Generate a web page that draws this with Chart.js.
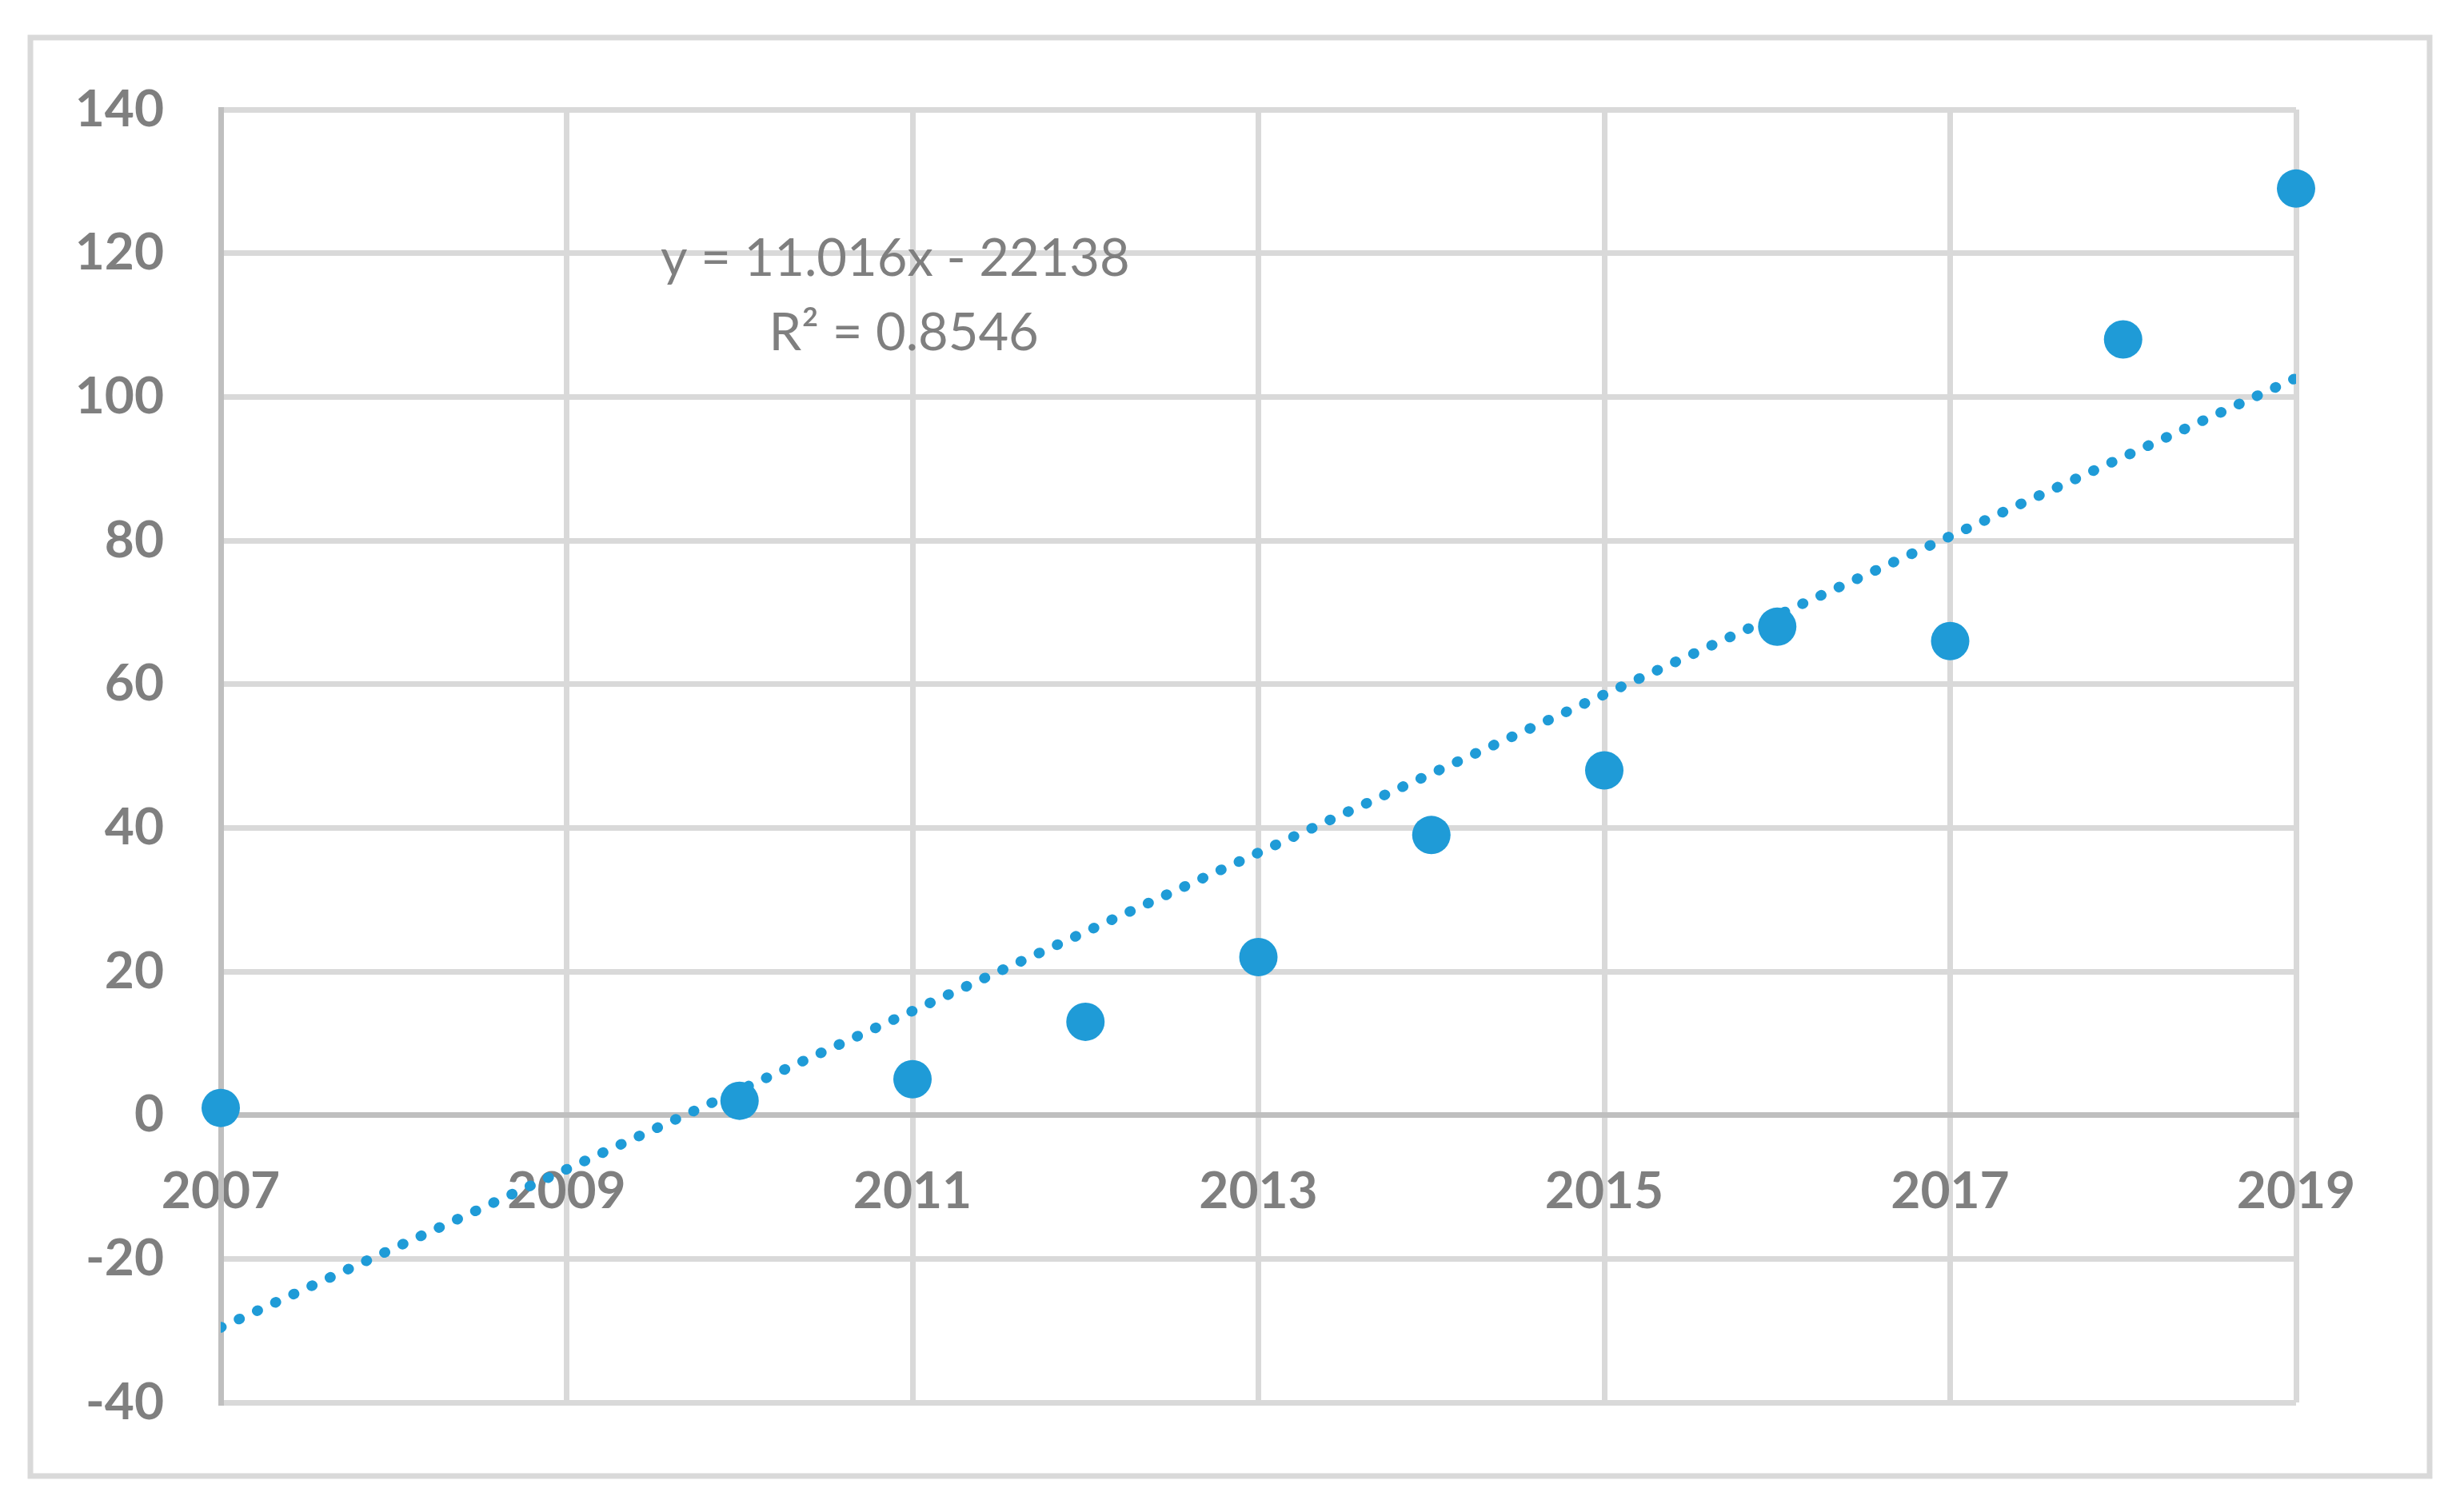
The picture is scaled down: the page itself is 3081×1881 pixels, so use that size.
<!DOCTYPE html>
<html>
<head>
<meta charset="utf-8">
<title>Trend</title>
<script src="https://cdn.jsdelivr.net/npm/chart.js@4.4.1/dist/chart.umd.min.js"></script>
<style>
    html, body { margin: 0; padding: 0; background: #ffffff; }
    canvas { display: block; }
</style>
</head>
<body>
<canvas id="trendChart" width="3081" height="1881"></canvas>
<script>
// Values
const years = [2007, 2010, 2011, 2012, 2013, 2014, 2015, 2016, 2017, 2018, 2019];
const counts = [1, 2, 5, 13, 22, 39, 48, 68, 66, 108, 129];
const xTicks = [2007, 2009, 2011, 2013, 2015, 2017, 2019];
const yTicks = [-40, -20, 0, 20, 40, 60, 80, 100, 120, 140];
const equationLines = ['y = 11.016x - 22138', 'R\u00B2 = 0.8546'];

const blue = '#1f9bd7';
const textGray = '#7f7f7f';

// Least-squares fit, the same line Excel draws as the linear trendline
function linearFit(xs, ys) {
    const n = xs.length;
    const mx = xs.reduce((a, b) => a + b, 0) / n;
    const my = ys.reduce((a, b) => a + b, 0) / n;
    let sxy = 0, sxx = 0;
    for (let i = 0; i < n; i++) {
        sxy += (xs[i] - mx) * (ys[i] - my);
        sxx += (xs[i] - mx) * (xs[i] - mx);
    }
    const slope = sxy / sxx;
    return { slope: slope, intercept: my - slope * mx };
}

const fit = linearFit(years, counts);
const xMin = xTicks[0];
const xMax = xTicks[xTicks.length - 1];
const trendPoints = [xMin, xMax].map(x => ({ x: x, y: fit.slope * x + fit.intercept }));
const points = years.map((y, i) => ({ x: y, y: counts[i] }));

// Outer frame and the trendline equation
const decorations = {
    id: 'decorations',
    afterDraw(chart) {
        const ctx = chart.ctx;
        ctx.save();
        ctx.strokeStyle = '#d9d9d9';
        ctx.lineWidth = 7;
        ctx.strokeRect(38, 47, 3000, 1799);

        const xs = chart.scales.x;
        const ys = chart.scales.y;
        ctx.fillStyle = textGray;
        ctx.font = '65px Lato';
        ctx.textAlign = 'center';
        ctx.textBaseline = 'middle';
        ctx.fillText(equationLines[0], xs.getPixelForValue(2010.9), ys.getPixelForValue(119.2));
        ctx.fillText(equationLines[1], xs.getPixelForValue(2010.95), ys.getPixelForValue(108.8));
        ctx.restore();
    }
};

const tickFont = { family: 'Lato', weight: 'bold', size: 64 };

new Chart(document.getElementById('trendChart'), {
    type: 'scatter',
    data: {
        datasets: [{
            label: 'Values',
            data: points,
            backgroundColor: blue,
            borderWidth: 0,
            pointRadius: 24,
            pointHoverRadius: 24,
            clip: false,
            order: 1
        }, {
            type: 'line',
            label: 'Linear trend',
            data: trendPoints,
            borderColor: blue,
            borderWidth: 13,
            borderDash: [1, 24],
            borderCapStyle: 'round',
            pointRadius: 0,
            fill: false,
            order: 2
        }]
    },
    options: {
        responsive: false,
        animation: false,
        events: [],
        layout: {
            padding: { left: 60, top: 137, right: 210, bottom: 127 }
        },
        plugins: {
            legend: { display: false },
            tooltip: { enabled: false }
        },
        scales: {
            x: {
                type: 'linear',
                position: { y: 0 },
                min: xMin,
                max: xMax,
                afterBuildTicks: function(scale) {
                    scale.ticks = xTicks.map(v => ({ value: v }));
                },
                grid: { color: '#d9d9d9', lineWidth: 7, drawTicks: false },
                border: { color: '#bfbfbf', width: 7 },
                ticks: {
                    color: textGray,
                    font: tickFont,
                    padding: 57,
                    maxRotation: 0,
                    callback: function(value) { return String(value); }
                }
            },
            y: {
                type: 'linear',
                min: yTicks[0],
                max: yTicks[yTicks.length - 1],
                afterBuildTicks: function(scale) {
                    scale.ticks = yTicks.map(v => ({ value: v }));
                },
                afterFit: function(scale) {
                    scale.width = 216;
                },
                grid: { color: '#d9d9d9', lineWidth: 7, drawTicks: false },
                border: { color: '#bfbfbf', width: 7 },
                ticks: {
                    color: textGray,
                    font: tickFont,
                    padding: 71,
                    callback: function(value) { return String(value); }
                }
            }
        }
    },
    plugins: [decorations]
});
</script>
</body>
</html>
